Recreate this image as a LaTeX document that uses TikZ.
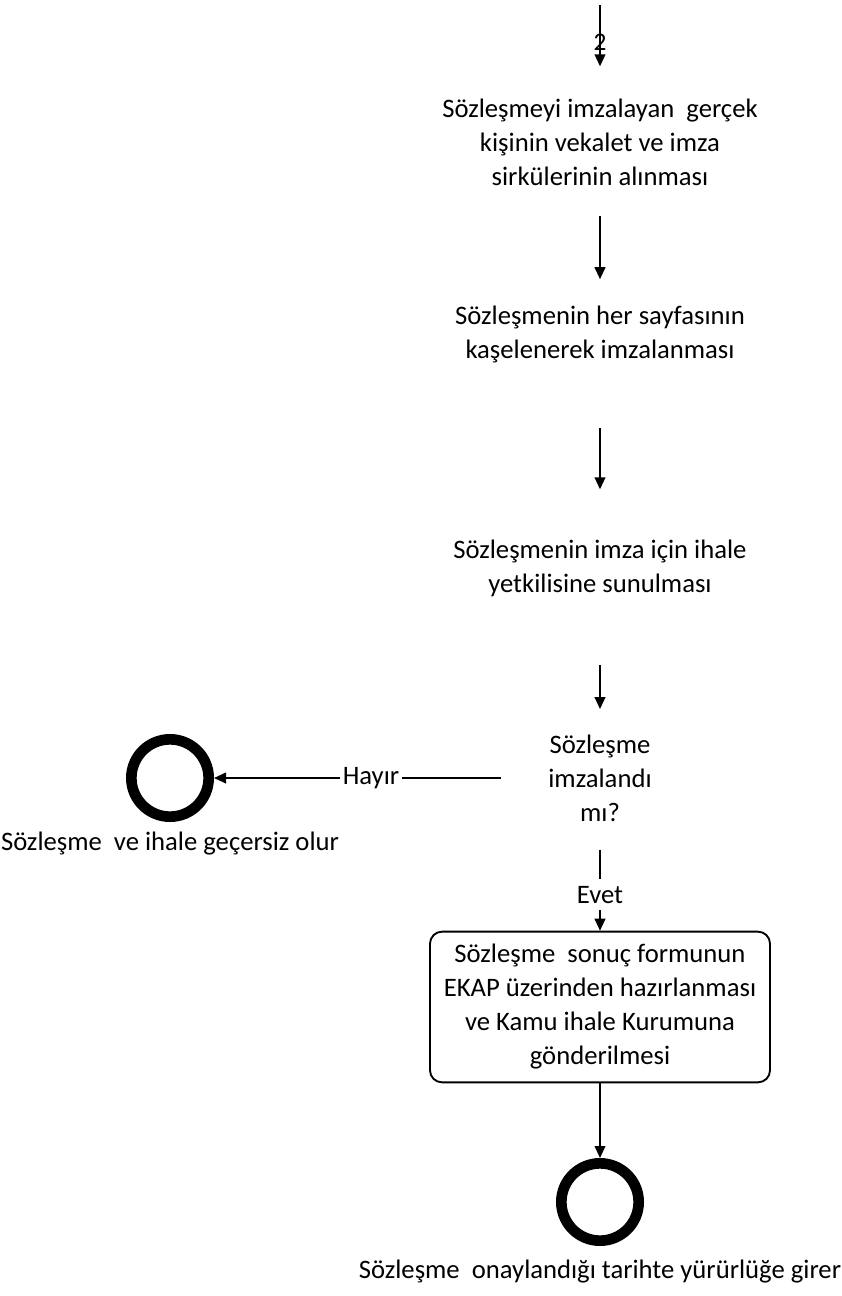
\documentclass[tikz,border=0pt]{standalone}
\usepackage{fontspec}
\setmainfont{Carlito}
\usetikzlibrary{arrows.meta,positioning}

\tikzset{
  arr/.style={-{Triangle[length=9pt,width=8pt]}, line width=1.4pt},
  acttxt/.style={align=center, inner sep=0pt, font=\fontsize{20pt}{25.5pt}\selectfont},
  lbl/.style={fill=white, inner xsep=2pt, inner ysep=5pt, font=\fontsize{20pt}{25.5pt}\selectfont},
  actbox/.style={acttxt, draw, line width=1.4pt, rounded corners=9pt, minimum width=255pt, minimum height=113pt},
  finish/.style={circle, draw, line width=8pt, minimum size=58pt, inner sep=0pt},
}

\begin{document}
\begin{tikzpicture}[x=0.75pt, y=-0.75pt]
    \useasboundingbox (0,0) rectangle (842,1296);

    % Steps
    \node[acttxt] (imzaci) at (600,142) {Sözleşmeyi imzalayan\ \ gerçek\\kişinin vekalet ve imza\\sirkülerinin alınması};
    \node[acttxt] (kase) at (600,334) {Sözleşmenin her sayfasının\\kaşelenerek imzalanması};
    \node[acttxt] (sunum) at (600,568) {Sözleşmenin imza için ihale\\yetkilisine sunulması};
    \node[acttxt] (karar) at (600,778) {Sözleşme\\imzalandı\\mı?};
    \node[actbox] (ekap) at (600,1007) {Sözleşme\ \ sonuç formunun\\EKAP üzerinden hazırlanması\\ve Kamu ihale Kurumuna\\gönderilmesi};

    % End points
    \node[finish] (gecersiz) at (170,778) {};
    \node[acttxt, below=7pt of gecersiz] (gecersizlbl) {Sözleşme\ \ ve ihale geçersiz olur};
    \node[finish] (yururluk) at (600,1202) {};
    \node[acttxt, below=10pt of yururluk] (yururluklbl) {Sözleşme\ \ onaylandığı tarihte yürürlüğe girer};

    % Arrows
    \coordinate (giris) at (600,5);
    \draw[arr, shorten >=24pt] (giris) -- node[pos=0.4, font=\fontsize{19pt}{22pt}\selectfont, inner sep=0pt] (sayfa) {2} (imzaci);
    \draw[arr, shorten <=22.5pt, shorten >=19.5pt] (imzaci) -- (kase);
    \draw[arr, shorten <=49pt, shorten >=37.5pt] (kase) -- (sunum);
    \draw[arr, shorten <=51pt, shorten >=19pt] (sunum) -- (karar);
    \draw[arr, shorten <=35pt] (karar) -- node[lbl, pos=0.53] (hayir) {Hayır} (gecersiz);
    \draw[arr, shorten <=21pt] (karar) -- node[lbl, pos=0.67] (evet) {Evet} (ekap);
    \draw[arr] (ekap) -- (yururluk);
\end{tikzpicture}
\end{document}
